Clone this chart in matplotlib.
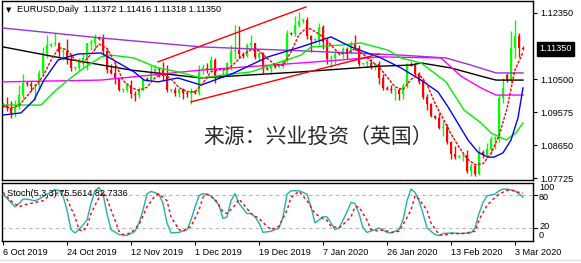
import matplotlib
matplotlib.use("Agg")
import matplotlib.pyplot as plt
import matplotlib.transforms as mtransforms
import numpy as np

# EURUSD daily candles, bar 0 = 6 Oct 2019 (broker shows Sunday bars)
opens = [1.0978, 1.0976, 1.0970, 1.0956, 1.0972, 1.1005, 1.1040, 1.1036, 1.1030, 1.1033,
         1.1068, 1.1122, 1.1144, 1.1148, 1.1150, 1.1127, 1.1128, 1.1105, 1.1080, 1.1082,
         1.1098, 1.1110, 1.1152, 1.1152, 1.1165, 1.1162, 1.1128, 1.1075, 1.1066, 1.1050,
         1.1018, 1.1020, 1.1034, 1.1008, 1.1006, 1.1022, 1.1050, 1.1048, 1.1071, 1.1077,
         1.1074, 1.1058, 1.1019, 1.1020, 1.1011, 1.1022, 1.1011, 1.1009, 1.1016, 1.1012,
         1.1077, 1.1082, 1.1077, 1.1103, 1.1059, 1.1058, 1.1064, 1.1094, 1.1129, 1.1131,
         1.1119, 1.1115, 1.1144, 1.1150, 1.1112, 1.1122, 1.1079, 1.1077, 1.1088, 1.1085,
         1.1090, 1.1101, 1.1178, 1.1176, 1.1200, 1.1213, 1.1214, 1.1170, 1.1158, 1.1160,
         1.1197, 1.1153, 1.1105, 1.1108, 1.1121, 1.1120, 1.1135, 1.1127, 1.1150, 1.1137,
         1.1092, 1.1094, 1.1095, 1.1084, 1.1093, 1.1054, 1.1025, 1.1022, 1.1019, 1.1020,
         1.1009, 1.1031, 1.1093, 1.1090, 1.1063, 1.1043, 1.1000, 1.0980, 1.0945, 1.0942,
         1.0912, 1.0915, 1.0873, 1.0840, 1.0832, 1.0834, 1.0837, 1.0791, 1.0805, 1.0785,
         1.0846, 1.0838, 1.0854, 1.0881, 1.0882, 1.0998, 1.1062, 1.1048, 1.1137, 1.1170,
         1.11372]
highs = [1.0983, 1.0999, 1.0988, 1.0990, 1.1034, 1.1063, 1.1044, 1.1045, 1.1040, 1.1074,
         1.1140, 1.1172, 1.1152, 1.1179, 1.1155, 1.1138, 1.1163, 1.1120, 1.1086, 1.1108,
         1.1120, 1.1152, 1.1163, 1.1175, 1.1170, 1.1176, 1.1136, 1.1092, 1.1092, 1.1055,
         1.1025, 1.1040, 1.1046, 1.1015, 1.1028, 1.1052, 1.1055, 1.1089, 1.1089, 1.1083,
         1.1097, 1.1090, 1.1023, 1.1028, 1.1022, 1.1026, 1.1015, 1.1025, 1.1020, 1.1090,
         1.1092, 1.1096, 1.1115, 1.1110, 1.1063, 1.1080, 1.1098, 1.1145, 1.1200, 1.1199,
         1.1125, 1.1150, 1.1174, 1.1152, 1.1127, 1.1125, 1.1083, 1.1090, 1.1093, 1.1093,
         1.1106, 1.1188, 1.1182, 1.1226, 1.1239, 1.1220, 1.1225, 1.1174, 1.1165, 1.1206,
         1.1202, 1.1166, 1.1118, 1.1128, 1.1125, 1.1140, 1.1140, 1.1157, 1.1173, 1.1144,
         1.1096, 1.1103, 1.1107, 1.1096, 1.1100, 1.1064, 1.1030, 1.1033, 1.1026, 1.1024,
         1.1038, 1.1096, 1.1098, 1.1095, 1.1069, 1.1052, 1.1009, 1.0983, 1.0948, 1.0956,
         1.0931, 1.0924, 1.0875, 1.0863, 1.0836, 1.0845, 1.0851, 1.0814, 1.0810, 1.0863,
         1.0850, 1.0870, 1.0889, 1.0891, 1.1005, 1.1053, 1.1068, 1.1185, 1.1214, 1.1178,
         1.11416]
lows = [1.0972, 1.0960, 1.0941, 1.0943, 1.0966, 1.0995, 1.1030, 1.1016, 1.0992, 1.1023,
        1.1058, 1.1110, 1.1140, 1.1142, 1.1113, 1.1104, 1.1093, 1.1072, 1.1075, 1.1074,
        1.1085, 1.1075, 1.1131, 1.1135, 1.1158, 1.1118, 1.1066, 1.1064, 1.1036, 1.1015,
        1.1014, 1.1014, 1.0997, 1.0989, 1.0997, 1.1015, 1.1044, 1.1045, 1.1060, 1.1057,
        1.1047, 1.1014, 1.1013, 1.1003, 1.0999, 1.0993, 1.1000, 1.0981, 1.1008, 1.1005,
        1.1064, 1.1066, 1.1073, 1.1040, 1.1052, 1.1052, 1.1060, 1.1076, 1.1105, 1.1108,
        1.1110, 1.1113, 1.1136, 1.1106, 1.1103, 1.1066, 1.1074, 1.1065, 1.1080, 1.1083,
        1.1082, 1.1099, 1.1172, 1.1170, 1.1197, 1.1208, 1.1163, 1.1126, 1.1150, 1.1146,
        1.1134, 1.1091, 1.1085, 1.1092, 1.1116, 1.1110, 1.1106, 1.1122, 1.1130, 1.1086,
        1.1088, 1.1084, 1.1077, 1.1076, 1.1036, 1.1019, 1.1018, 1.1010, 1.0992, 1.0992,
        1.0993, 1.1026, 1.1086, 1.1055, 1.1037, 1.0995, 1.0964, 1.0943, 1.0938, 1.0911,
        1.0890, 1.0869, 1.0826, 1.0827, 1.0828, 1.0821, 1.0786, 1.0778, 1.0778, 1.0780,
        1.0830, 1.0830, 1.0840, 1.0854, 1.0873, 1.0982, 1.1042, 1.1040, 1.1110, 1.1112,
        1.11318]
closes = [1.0976, 1.0970, 1.0956, 1.0972, 1.1005, 1.1040, 1.1036, 1.1030, 1.1033, 1.1068,
          1.1122, 1.1144, 1.1148, 1.1150, 1.1127, 1.1128, 1.1105, 1.1080, 1.1082, 1.1098,
          1.1110, 1.1152, 1.1152, 1.1165, 1.1162, 1.1128, 1.1075, 1.1066, 1.1050, 1.1018,
          1.1020, 1.1034, 1.1008, 1.1006, 1.1022, 1.1050, 1.1048, 1.1071, 1.1077, 1.1074,
          1.1058, 1.1019, 1.1020, 1.1011, 1.1022, 1.1011, 1.1009, 1.1016, 1.1012, 1.1077,
          1.1082, 1.1077, 1.1103, 1.1059, 1.1058, 1.1064, 1.1094, 1.1129, 1.1131, 1.1119,
          1.1115, 1.1144, 1.1150, 1.1112, 1.1122, 1.1079, 1.1077, 1.1088, 1.1085, 1.1090,
          1.1101, 1.1178, 1.1176, 1.1200, 1.1213, 1.1214, 1.1170, 1.1158, 1.1160, 1.1197,
          1.1153, 1.1105, 1.1108, 1.1121, 1.1120, 1.1135, 1.1127, 1.1150, 1.1137, 1.1092,
          1.1094, 1.1095, 1.1084, 1.1093, 1.1054, 1.1025, 1.1022, 1.1019, 1.1020, 1.1009,
          1.1031, 1.1093, 1.1090, 1.1063, 1.1043, 1.1000, 1.0980, 1.0945, 1.0942, 1.0912,
          1.0915, 1.0873, 1.0840, 1.0832, 1.0834, 1.0837, 1.0791, 1.0805, 1.0785, 1.0846,
          1.0838, 1.0854, 1.0881, 1.0882, 1.0998, 1.1026, 1.1048, 1.1137, 1.1170, 1.1137,
          1.11350]

# moving averages as (bar, price) vertices
ma_red_x = list(range(0, 131, 2))
ma_red_y = [1.0975, 1.0968, 1.0976, 1.1002, 1.1029, 1.1058, 1.1103, 1.1138, 1.1132, 1.1104,
            1.1095, 1.1119, 1.1148, 1.1136, 1.1096, 1.1046, 1.1026, 1.1018, 1.1027, 1.1054,
            1.1066, 1.1050, 1.1026, 1.1015, 1.1014, 1.1039, 1.1070, 1.1076, 1.1076, 1.1095,
            1.1118, 1.1132, 1.1129, 1.1108, 1.1090, 1.1088, 1.1126, 1.1174, 1.1195, 1.1183,
            1.1168, 1.1145, 1.1121, 1.1122, 1.1134, 1.1120, 1.1100, 1.1084, 1.1056, 1.1028,
            1.1020, 1.1049, 1.1064, 1.1035, 1.0982, 1.0939, 1.0896, 1.0859, 1.0827, 1.0810,
            1.0813, 1.0841, 1.0891, 1.0967, 1.1076, 1.1125]
ma_blue_x = [0, 4.5, 7.75, 10.25, 13.75, 16.25, 18.75, 24.5, 26.25, 32.75, 35.25, 38.75,
             43.75, 49.5, 57.75, 66.25, 74.5, 82, 87, 94.5, 99.5, 104.5, 108.75, 111.25,
             116.25, 118.75, 121.25, 122.75, 125, 127, 128.75, 130]
ma_blue_y = [1.0949, 1.0955, 1.0991, 1.1047, 1.1103, 1.1112, 1.1120, 1.1123, 1.1112, 1.1070,
             1.1047, 1.1042, 1.1053, 1.1033, 1.1067, 1.1112, 1.1140, 1.1168, 1.1140, 1.1109,
             1.1081, 1.1047, 1.1014, 1.0972, 1.0879, 1.0845, 1.0831, 1.0831, 1.0843, 1.0879,
             1.0941, 1.1025]
ma_green_x = [0, 9.5, 13.25, 16.25, 19.5, 24.5, 27, 32.75, 38.75, 43.75, 49.5, 62, 74.5,
              77, 84.5, 89.5, 96.25, 99.5, 104.5, 110.75, 115.25, 119.5, 122, 125.75,
              128.25, 130]
ma_green_y = [1.0977, 1.0977, 1.1019, 1.1047, 1.1075, 1.1112, 1.1117, 1.1109, 1.1081, 1.1070,
              1.1053, 1.1070, 1.1117, 1.1140, 1.1145, 1.1151, 1.1131, 1.1109, 1.1095, 1.1042,
              1.0963, 1.0927, 1.0899, 1.0879, 1.0899, 1.0927]
ma_magenta_x = [0, 24.5, 49.5, 74.5, 94.5, 109.5, 114.5, 119.5, 123.25, 130]
ma_magenta_y = [1.1042, 1.1047, 1.1075, 1.1095, 1.1112, 1.1109, 1.1058, 1.1025, 1.1005, 1.1005]
ma_purple_x = [0, 24.5, 49.5, 74.5, 99.5, 110.75, 117, 123.25, 130]
ma_purple_y = [1.1193, 1.1165, 1.1140, 1.1129, 1.1117, 1.1109, 1.1089, 1.1067, 1.1067]
ma_black_x = [0, 14.5, 32, 49.5, 74.5, 94.5, 102, 104.5, 112, 119.5, 123.25, 130]
ma_black_y = [1.1140, 1.1109, 1.1075, 1.1053, 1.1070, 1.1086, 1.1089, 1.1095, 1.1081, 1.1058,
              1.1047, 1.1047]

# hand-drawn trend channel (bar, price)
chan_upper_x = [38.75, 75.75]
chan_upper_y = [1.1098, 1.1252]
chan_lower_x = [47, 94]
chan_lower_y = [1.0986, 1.1120]

# Stoch(5,3,3) main and signal
stoch_k_x = [0, 3, 4, 5, 6, 8, 9, 11, 13, 14, 15, 16, 17, 18, 19, 21, 22, 23, 24, 25,
             26, 27, 29, 31, 33, 34, 35, 36, 37, 39, 40, 41, 42, 44, 46, 47, 48, 49, 50, 52,
             54, 55, 56, 57, 58, 59, 61, 62, 63, 64, 65, 67, 69, 70, 71, 72, 74, 76, 77, 78,
             80, 81, 82, 83, 84, 85, 86, 87, 88, 89, 90, 91, 93, 94, 96, 97, 99, 100, 101, 102,
             103, 104, 105, 106, 108, 109, 110, 112, 114, 117, 118, 119, 120, 121, 123, 124, 125,
             126, 128, 129, 130]
stoch_k_y = [81, 58, 64, 72, 72, 69, 72, 81, 88, 88, 78, 52, 17, 11, 17, 34, 64, 87, 93, 81,
             46, 17, 8, 6.5, 14, 29, 52, 81, 86, 81, 64, 29, 11, 12, 17, 34, 58, 78, 82, 78,
             61, 37, 40, 69, 82, 64, 46, 46, 40, 29, 12, 14, 20, 40, 81, 87, 87, 81, 58, 29,
             40, 40, 29, 17, 20, 34, 49, 66, 64, 46, 20, 12, 17, 20, 12, 11, 17, 34, 69, 90,
             84, 69, 46, 20, 8, 6.5, 10, 11, 10, 11, 20, 46, 66, 78, 81, 87, 90,
             90, 87, 81, 75.56]
stoch_d_x = [0, 2, 4, 5, 8, 10, 11, 13, 15, 16, 18, 19, 20, 21, 22, 24, 25, 26, 28, 29,
             30, 32, 34, 36, 38, 39, 41, 42, 44, 45, 47, 49, 50, 51, 53, 55, 56, 58, 59, 61,
             62, 64, 66, 67, 69, 71, 72, 74, 76, 78, 80, 81, 82, 84, 85, 87, 88, 89, 91, 92,
             94, 95, 97, 99, 100, 102, 103, 104, 106, 107, 109, 110, 112, 115, 118, 119, 121, 123,
             124, 126, 127, 129, 130]
stoch_d_y = [84, 69, 58, 61, 66, 69, 75, 81, 87, 72, 40, 17, 14, 23, 46, 75, 84, 72, 34, 14,
             8, 11, 26, 58, 78, 81, 69, 40, 17, 14, 23, 52, 75, 81, 72, 49, 46, 61, 72, 55,
             46, 37, 23, 17, 23, 52, 75, 86, 69, 46, 37, 34, 23, 20, 26, 40, 58, 58, 34, 17,
             14, 17, 12, 14, 26, 52, 78, 72, 52, 29, 8, 6.5, 10, 10, 14, 34, 61, 75,
             81, 88, 88, 84, 82.73]

price_ticks = [1.12350, 1.10500, 1.09575, 1.08650, 1.07725]
last_price = 1.11350
date_ticks = [0, 16, 32, 48, 64, 80, 96, 112, 128]
date_labels = ["6 Oct 2019", "24 Oct 2019", "12 Nov 2019", "1 Dec 2019", "19 Dec 2019",
               "7 Jan 2020", "26 Jan 2020", "13 Feb 2020", "3 Mar 2020"]

W, H = 581, 263
MT_FONT = "Liberation Sans"
FS = 6.6
PX_PER_PRICE = 3568  # vertical scale of the price panel


def px_box(left, top, right, bottom):
    return [left / W, 1 - bottom / H, (right - left) / W, (bottom - top) / H]


fig = plt.figure(figsize=(W / 100, H / 100), dpi=100)
ax = fig.add_axes(px_box(2, 1, 533, 180))
ax2 = fig.add_axes(px_box(2, 183, 533, 241))

xlim = (-0.25, 132.5)

# candles
bars = np.arange(len(closes))
o, hi, lo, c = map(np.array, (opens, highs, lows, closes))
col = np.where(c >= o, "#00ff00", "#ff0000")
ax.vlines(bars, lo, hi, colors=col, lw=1, zorder=2)
ax.bar(bars, np.maximum(np.abs(c - o), 0.00028), bottom=np.minimum(o, c),
       width=0.72, color=col, linewidth=0, zorder=2)

# moving averages
ax.plot(ma_purple_x, ma_purple_y, color="#9b30e0", lw=1, zorder=3)
ax.plot(ma_black_x, ma_black_y, color="black", lw=1, zorder=3)
ax.plot(ma_magenta_x, ma_magenta_y, color="#ff00ff", lw=1, zorder=3)
ax.plot(ma_green_x, ma_green_y, color="#00ee00", lw=1, zorder=3)
ax.plot(ma_blue_x, ma_blue_y, color="#0000ff", lw=1, zorder=3)
ax.plot(ma_red_x, ma_red_y, color="#ff0000", lw=1, ls=(0, (2, 1)), zorder=3)

ax.plot(chan_upper_x, chan_upper_y, color="#ff0000", lw=1, zorder=3)
ax.plot(chan_lower_x, chan_lower_y, color="#ff0000", lw=1, zorder=3)

ax.set_xlim(*xlim)
# 1.12350 sits 12 px below the panel top, the panel is 179 px high
ax.set_ylim(1.12350 - 167 / PX_PER_PRICE, 1.12350 + 12 / PX_PER_PRICE)
ax.set_xticks([])
ax.yaxis.tick_right()
ax.set_yticks(price_ticks)
ax.set_yticklabels([f"{p:.5f}" for p in price_ticks], fontname=MT_FONT, fontsize=FS)
ax.tick_params(axis="y", length=3, width=0.8, pad=2)

trans = mtransforms.blended_transform_factory(ax.transAxes, ax.transData)
ax.text(1.012, last_price, f"{last_price:.5f}", transform=trans, ha="left", va="center",
        color="white", fontname=MT_FONT, fontsize=FS,
        bbox=dict(boxstyle="square,pad=0.28", fc="black", ec="black"))

# header and watermark
fig.text(6 / W, 1 - 10 / H, "\u25bc", fontsize=5, va="center", ha="left", color="black")
fig.text(17 / W, 1 - 10 / H, "EURUSD,Daily  1.11372 1.11416 1.11318 1.11350",
         fontname=MT_FONT, fontsize=FS, va="center", ha="left", color="black")
fig.text(203 / W, 1 - 138 / H, "来源：兴业投资（英国）", family=["Noto Sans CJK SC", "DejaVu Sans"],
         fontsize=15, va="center", ha="left", color="#2a2a2a")

# stochastic panel
ax2.axhline(80, color="#b4b4b4", lw=0.8, ls=(0, (3, 3)), zorder=1)
ax2.axhline(20, color="#b4b4b4", lw=0.8, ls=(0, (3, 3)), zorder=1)
ax2.plot(stoch_k_x, stoch_k_y, color="#20b2aa", lw=1, zorder=3)
ax2.plot(stoch_d_x, stoch_d_y, color="#ff0000", lw=1, ls=(0, (2, 2)), zorder=3)
ax2.set_xlim(*xlim)
ax2.set_ylim(-3.5, 101)
ax2.set_yticks([])
ax2.set_xticks(date_ticks)
ax2.set_xticklabels(date_labels, fontname=MT_FONT, fontsize=FS, ha="left")
ax2.tick_params(axis="x", length=3, width=0.8, pad=2)
ax2.text(5 / 531, 1 - 10 / 58, "Stoch(5,3,3) 75.5614 82.7336", transform=ax2.transAxes,
         fontname=MT_FONT, fontsize=FS, va="center", ha="left", color="black", zorder=4)
for lab, ypx in (("100", 188), ("80", 197.5), ("20", 226.5), ("0", 235.5)):
    fig.text(539 / W, 1 - ypx / H, lab, fontname=MT_FONT, fontsize=FS, va="center",
             ha="left", color="black")
level_trans = mtransforms.blended_transform_factory(ax2.transAxes, ax2.transData)
for lev in (80, 20):
    ax2.plot([1.0, 1.008], [lev, lev], transform=level_trans, color="black", lw=0.8,
             clip_on=False)

for a in (ax, ax2):
    for s in a.spines.values():
        s.set_linewidth(1)
        s.set_color("black")

fig.add_artist(plt.Line2D([0, 1], [1 - 260 / H, 1 - 260 / H], color="#e0e0e0", lw=1))

fig.savefig("out.png", dpi=100)
